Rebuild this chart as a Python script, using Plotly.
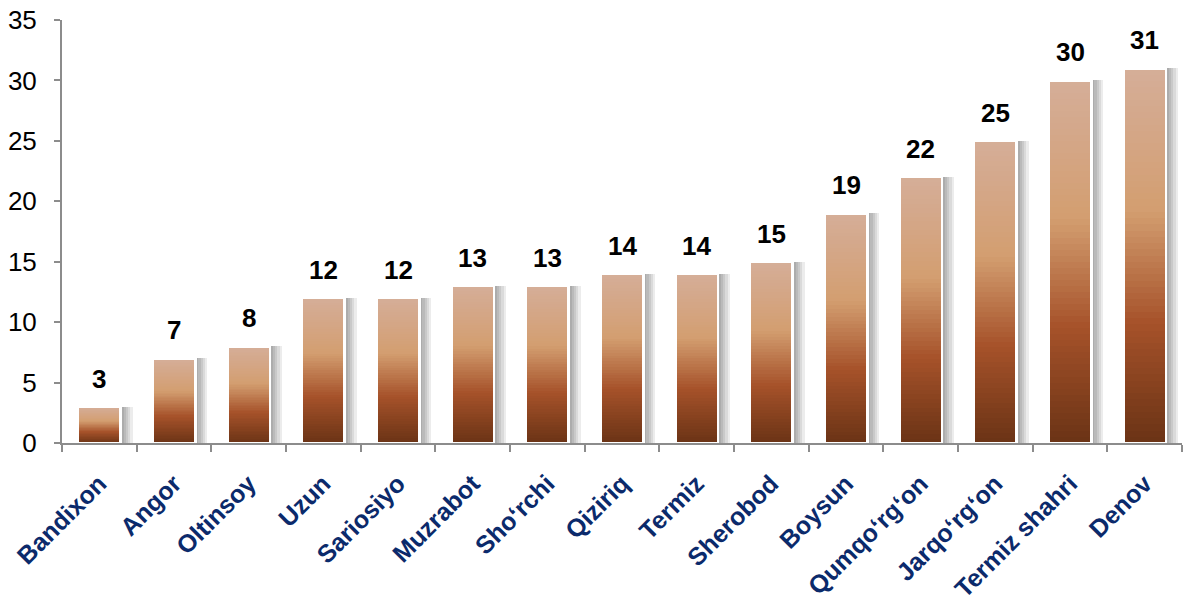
import plotly.graph_objects as go

categories = ["Bandixon", "Angor", "Oltinsoy", "Uzun", "Sariosiyo", "Muzrabot",
              "Sho\u2018rchi", "Qiziriq", "Termiz", "Sherobod", "Boysun",
              "Qumqo\u2018rg\u2018on", "Jarqo\u2018rg\u2018on", "Termiz shahri", "Denov"]
values = [3, 7, 8, 12, 12, 13, 13, 14, 14, 15, 19, 22, 25, 30, 31]
y_ticks = [0, 5, 10, 15, 20, 25, 30, 35]

# gradient stops (bottom -> top)
stops = [(0.0, (0x6A, 0x33, 0x15)), (0.32, (0xA6, 0x52, 0x2A)),
         (0.62, (0xD3, 0x9E, 0x70)), (0.82, (0xD4, 0xA6, 0x86)),
         (1.0, (0xD5, 0xAE, 0x98))]

def color_at(t):
    for (a, ca), (b, cb) in zip(stops[:-1], stops[1:]):
        if a <= t <= b:
            f = (t - a) / (b - a)
            c = [round(ca[i] + (cb[i] - ca[i]) * f) for i in range(3)]
            return f"rgb({c[0]},{c[1]},{c[2]})"
    return "rgb(213,174,152)"

N = 60
W = 0.57
FONT = "Arial, Liberation Sans, sans-serif"

fig = go.Figure()

# soft drop shadow: several offset layers, each on its own overlay axis so they do not stack
shifts = [0.16, 0.13, 0.10, 0.07, 0.04]
for i, shift in enumerate(shifts):
    sfx = "" if i == 0 else str(i + 1)
    fig.add_trace(go.Bar(x=categories, y=values, width=W, offset=-W / 2 + shift,
                         marker=dict(color="rgba(0,0,0,0.075)", line=dict(width=0)),
                         hoverinfo="skip", showlegend=False,
                         xaxis="x" + sfx, yaxis="y" + sfx))

GRAD = len(shifts) + 1
OUTL = len(shifts) + 2

# gradient slices (stacked on their own layer)
for k in range(N):
    t = (k + 0.5) / N
    fig.add_trace(go.Bar(x=categories, y=[v / N for v in values], width=W,
                         marker=dict(color=color_at(t), line=dict(width=0)),
                         hoverinfo="skip", showlegend=False,
                         xaxis=f"x{GRAD}", yaxis=f"y{GRAD}"))

# white outline
fig.add_trace(go.Bar(x=categories, y=values, width=W,
                     marker=dict(color="rgba(0,0,0,0)", line=dict(color="white", width=2.5)),
                     hoverinfo="skip", showlegend=False,
                     xaxis=f"x{OUTL}", yaxis=f"y{OUTL}"))

# value labels
for c, v in zip(categories, values):
    fig.add_annotation(x=c, y=v, xref="x", yref="y", text=str(v), showarrow=False,
                       yanchor="bottom", yshift=11,
                       font=dict(family=FONT, size=26, color="black", weight="bold"))

rng_x = [-0.5, len(categories) - 0.5]
rng_y = [0, 35]

hidden_x = dict(type="category", range=rng_x, visible=False, categoryorder="array",
                categoryarray=categories)
hidden_y = dict(range=rng_y, visible=False)

layout_extra = {}
for i in range(2, OUTL + 1):
    layout_extra[f"xaxis{i}"] = dict(overlaying="x", **hidden_x)
    layout_extra[f"yaxis{i}"] = dict(overlaying="y", **hidden_y)

fig.update_layout(
    width=1187, height=606,
    margin=dict(l=62, r=5, t=20, b=163),
    paper_bgcolor="white", plot_bgcolor="white",
    barmode="stack", bargap=0.43,
    font=dict(family=FONT),
    xaxis=dict(type="category", range=rng_x, categoryorder="array", categoryarray=categories,
               tickangle=-45, tickson="boundaries", ticks="outside", ticklen=7,
               tickcolor="#8c8c8c", tickwidth=2, showline=True, linecolor="#8c8c8c",
               linewidth=2, showgrid=False, zeroline=False, automargin=False,
               ticklabelstandoff=14,
               tickfont=dict(family=FONT, size=25, color="#0B2A6B", weight="bold")),
    yaxis=dict(range=rng_y, tickvals=y_ticks, ticks="outside", ticklen=6,
               tickcolor="#8c8c8c", tickwidth=2, showline=True, linecolor="#8c8c8c",
               linewidth=2, showgrid=False, zeroline=False, automargin=False,
               ticklabelstandoff=12,
               tickfont=dict(family=FONT, size=26, color="black")),
    **layout_extra,
)

fig.write_html("out.html", config={"displayModeBar": False},
               post_script="document.body.style.margin='0';")
